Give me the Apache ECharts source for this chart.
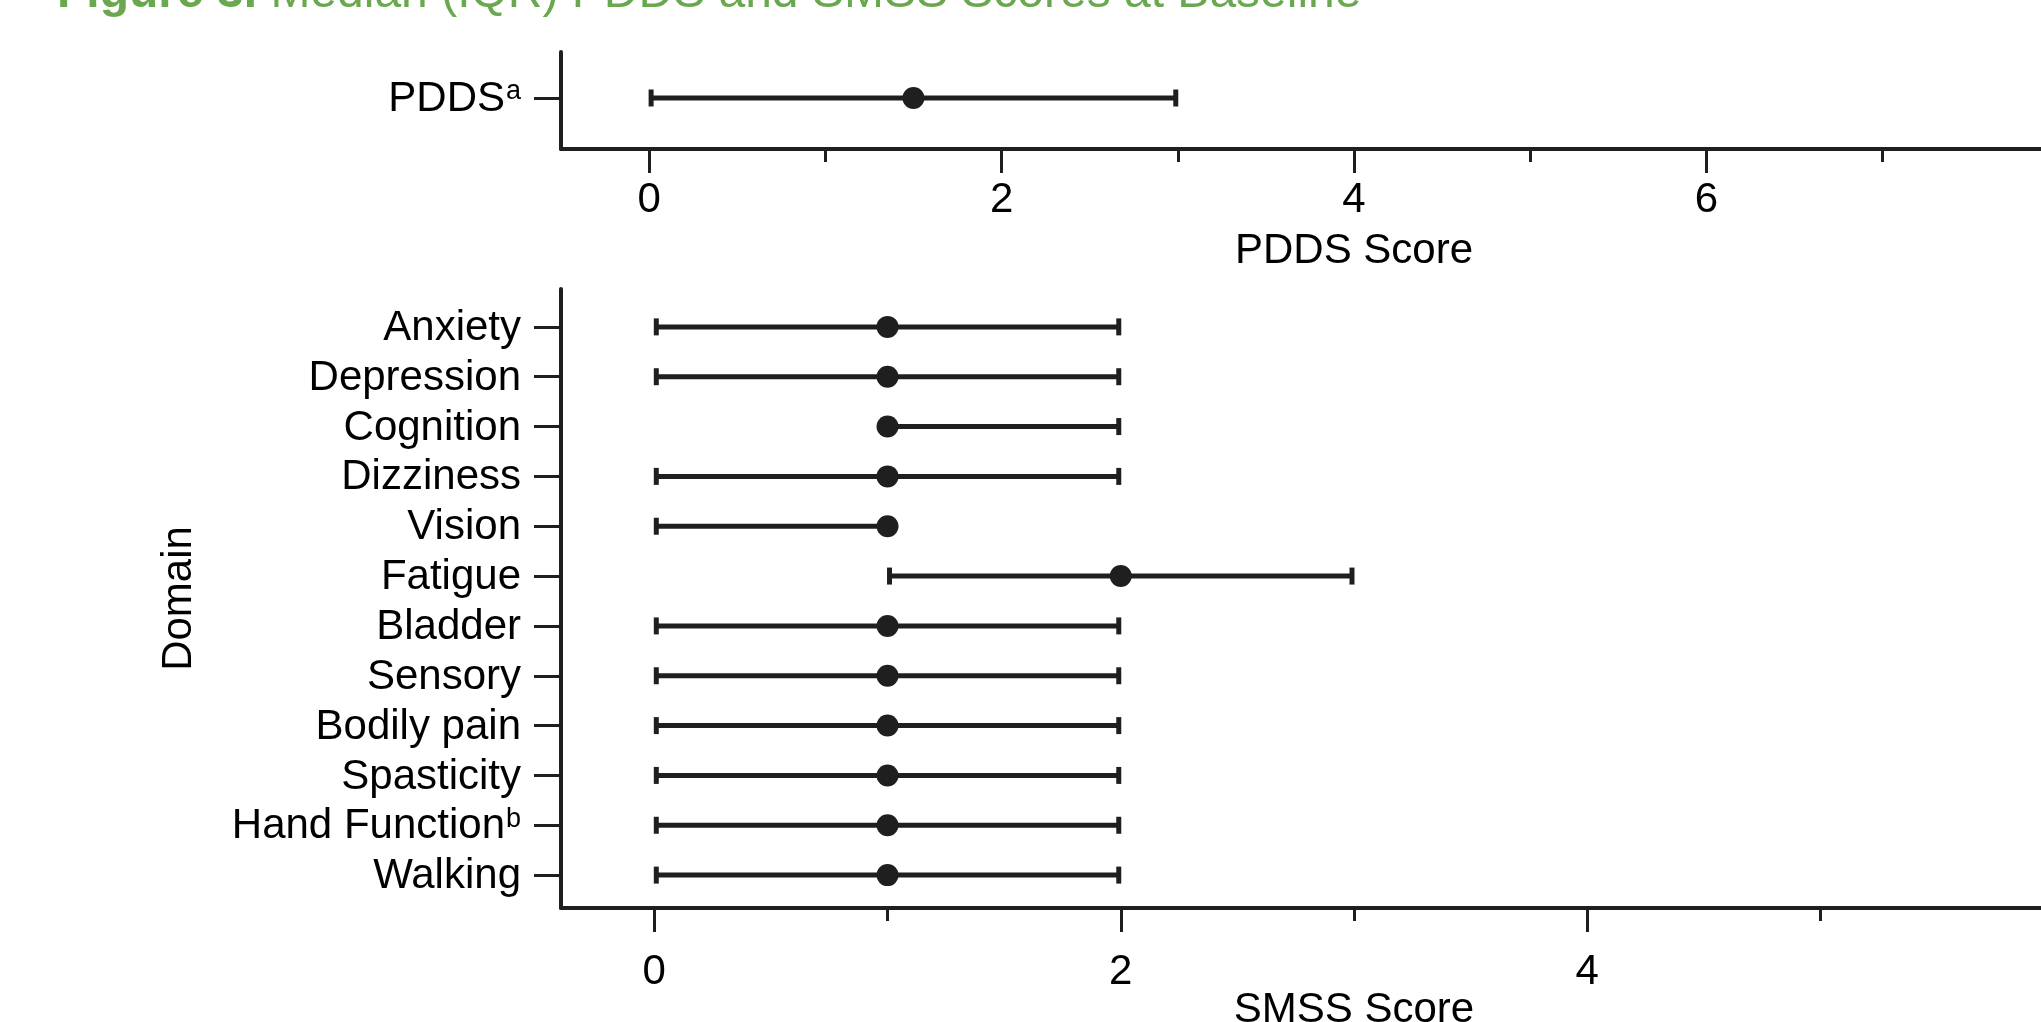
<!DOCTYPE html>
<html><head><meta charset="utf-8">
<script src="https://cdn.jsdelivr.net/npm/echarts@6/dist/echarts.min.js"></script>
<style>html,body{margin:0;padding:0;background:#fff}#c{width:2041px;height:1022px}</style>
</head><body><div id="c"></div>
<script>
// ---- data ----
const titleBold = 'Figure 3.';
const titleRest = 'Median (IQR) PDDS and SMSS Scores at Baseline';
const pddsLabel = 'PDDS';
const pddsSup = 'a';
const pddsMedian = [1.5];
const pddsQ1 = [0];
const pddsQ3 = [3];
const domains = ['Anxiety','Depression','Cognition','Dizziness','Vision','Fatigue','Bladder','Sensory','Bodily pain','Spasticity','Hand Function','Walking'];
const domainSup = ['','','','','','','','','','','b',''];
const smssMedian = [1,1,1,1,1,2,1,1,1,1,1,1];
const smssQ1 = [0,0,1,0,0,1,0,0,0,0,0,0];
const smssQ3 = [2,2,2,2,1,3,2,2,2,2,2,2];
const pddsMajorTicks = [0,2,4,6,8];
const pddsMinorTicks = [1,3,5,7];
const smssMajorTicks = [0,2,4,6];
const smssMinorTicks = [1,3,5];

// ---- styles ----
const DARK = '#1f1f1f';
const FONT = "'Liberation Sans', Arial, Helvetica, sans-serif";
const FS = 42;
const n = domains.length;
const rowPos = domains.map((d, i) => n - i);

function errRender(params, api) {
  const y = api.value(0), lo = api.value(1), hi = api.value(2);
  const p1 = api.coord([lo, y]), p2 = api.coord([hi, y]);
  const h = 8.5;
  const style = { stroke: DARK, lineWidth: 5, fill: null };
  return { type: 'group', children: [
    { type: 'line', shape: { x1: p1[0], y1: p1[1], x2: p2[0], y2: p2[1] }, style },
    { type: 'line', shape: { x1: p1[0] + 2, y1: p1[1] - h, x2: p1[0] + 2, y2: p1[1] + h }, style },
    { type: 'line', shape: { x1: p2[0] - 2, y1: p2[1] - h, x2: p2[0] - 2, y2: p2[1] + h }, style }
  ]};
}

const labelBase = { fontSize: FS, color: '#000', fontFamily: FONT };
const rich = {
  m: { fontSize: FS, color: '#000', fontFamily: FONT, padding: [3, 0, 0, 0] },
  s: { fontSize: 27, color: '#000', fontFamily: FONT, verticalAlign: 'top', padding: [3, 0, 0, 1] }
};
const nameStyle = { fontSize: FS, color: '#000', fontFamily: FONT };

function xAxisMajor(grid, min, max, ticks, labels, name, labelMargin) {
  return {
    gridIndex: grid, type: 'value', position: 'bottom', min, max,
    axisLine: { show: true, onZero: false, lineStyle: { color: DARK, width: 4 } },
    axisTick: { show: true, customValues: ticks, length: 24, lineStyle: { color: DARK, width: 3 } },
    axisLabel: { show: true, customValues: labels, margin: labelMargin, ...labelBase },
    splitLine: { show: false },
    name, nameLocation: 'middle', nameGap: 81, nameTextStyle: nameStyle, nameMoveOverlap: false
  };
}
function xAxisMinor(grid, min, max, ticks) {
  return {
    gridIndex: grid, type: 'value', position: 'bottom', min, max,
    axisLine: { show: false, onZero: false },
    axisTick: { show: true, customValues: ticks, length: 13, lineStyle: { color: DARK, width: 3 } },
    axisLabel: { show: false },
    splitLine: { show: false }
  };
}

const option = {
  animation: false,
  backgroundColor: '#fff',
  title: {
    left: 57, top: -30, padding: 0,
    text: '{b|' + titleBold + '}{r| ' + titleRest + '}',
    textStyle: {
      rich: {
        b: { fontSize: 48, fontWeight: 'bold', color: '#6aa84f', fontFamily: FONT },
        r: { fontSize: 48, fontWeight: 'normal', color: '#6aa84f', fontFamily: FONT }
      }
    }
  },
  grid: [
    { left: 561, top: 52, width: 1586, height: 97, outerBoundsMode: 'none', containLabel: false },
    { left: 561, top: 289, width: 1586, height: 619, outerBoundsMode: 'none', containLabel: false }
  ],
  xAxis: [
    xAxisMajor(0, -0.5, 8.5, pddsMajorTicks, pddsMajorTicks, 'PDDS Score', 30),
    xAxisMinor(0, -0.5, 8.5, pddsMinorTicks),
    xAxisMajor(1, -0.4, 6.4, smssMajorTicks, smssMajorTicks, 'SMSS Score', 43),
    xAxisMinor(1, -0.4, 6.4, smssMinorTicks)
  ],
  yAxis: [
    {
      gridIndex: 0, type: 'value', min: 0.49, max: 1.46,
      axisLine: { show: true, onZero: false, lineStyle: { color: DARK, width: 4 } },
      axisTick: { show: true, customValues: [1], length: 27, lineStyle: { color: DARK, width: 3 } },
      axisLabel: { show: true, customValues: [1], margin: 40, ...labelBase,
        formatter: () => '{m|' + pddsLabel + '}{s|' + pddsSup + '}', rich },
      splitLine: { show: false }
    },
    {
      gridIndex: 1, type: 'value', min: 0.34, max: 12.76,
      axisLine: { show: true, onZero: false, lineStyle: { color: DARK, width: 4 } },
      axisTick: { show: true, customValues: rowPos, length: 27, lineStyle: { color: DARK, width: 3 } },
      axisLabel: { show: true, customValues: rowPos, margin: 40, ...labelBase,
        formatter: (v) => { const i = n - Math.round(v); return '{m|' + domains[i] + '}' + (domainSup[i] ? '{s|' + domainSup[i] + '}' : ''); },
        rich },
      splitLine: { show: false },
      name: 'Domain', nameLocation: 'middle', nameGap: 361, nameRotate: 90,
      nameTextStyle: nameStyle, nameMoveOverlap: false
    }
  ],
  series: [
    {
      type: 'custom', xAxisIndex: 0, yAxisIndex: 0, renderItem: errRender,
      encode: { x: [1, 2], y: 0 }, silent: true, z: 2,
      data: pddsMedian.map((m, i) => [1, pddsQ1[i], pddsQ3[i]])
    },
    {
      type: 'scatter', xAxisIndex: 0, yAxisIndex: 0, symbol: 'circle', symbolSize: 22,
      itemStyle: { color: DARK, opacity: 1 }, z: 3, silent: true,
      data: pddsMedian.map((m) => [m, 1])
    },
    {
      type: 'custom', xAxisIndex: 2, yAxisIndex: 1, renderItem: errRender,
      encode: { x: [1, 2], y: 0 }, silent: true, z: 2,
      data: domains.map((d, i) => [rowPos[i], smssQ1[i], smssQ3[i]])
    },
    {
      type: 'scatter', xAxisIndex: 2, yAxisIndex: 1, symbol: 'circle', symbolSize: 22,
      itemStyle: { color: DARK, opacity: 1 }, z: 3, silent: true,
      data: domains.map((d, i) => [smssMedian[i], rowPos[i]])
    }
  ]
};
const chart = echarts.init(document.getElementById('c'), null, { renderer: 'canvas' });
chart.setOption(option);
</script>
</body></html>
